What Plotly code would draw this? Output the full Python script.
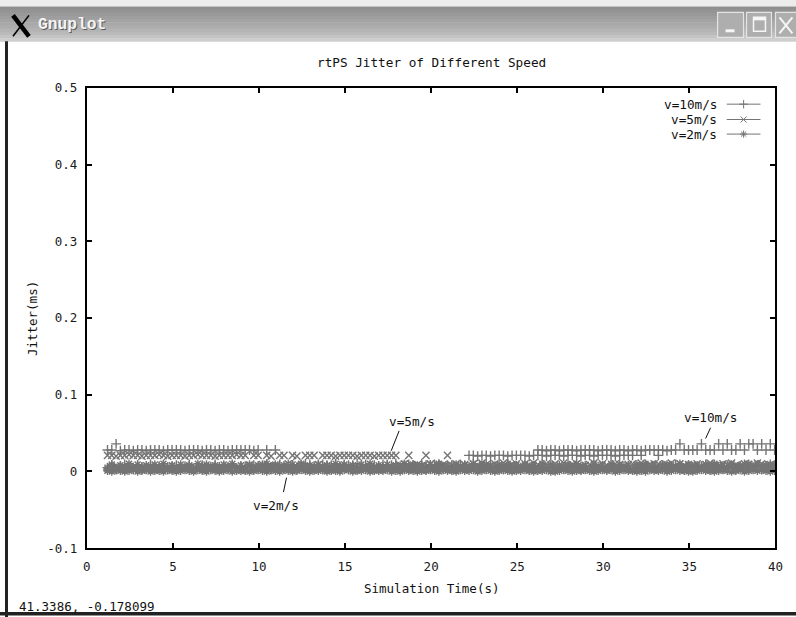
import numpy as np
import plotly.graph_objects as go

# Window layout is described in window pixels (796 x 617).  The page is shown
# slightly inset and scaled, so window pixels are mapped onto the figure with
# the measured inset (OX, OY) and scale (SX, SY).
WIN_W, WIN_H = 796, 617
SX, SY = 0.987, 0.980
OX, OY = 4.0, 5.6
FIG_W, FIG_H = 802, 624
FS = 1 / 0.984          # font / marker size correction for the same scale

# ---------------------------------------------------------------- data
# rtPS grant times (s): one sample every 250 ms
t = np.round(1.2 + 0.25 * np.arange(157), 2)

# jitter (ms) of the v=10m/s flows
jit10_a = [
    0.028, 0.028, 0.036, 0.027, 0.028, 0.028, 0.027, 0.028,
    0.028, 0.027, 0.028, 0.028, 0.028, 0.027, 0.028, 0.028,
    0.028, 0.028, 0.027, 0.028, 0.028, 0.028, 0.027, 0.028,
    0.028, 0.027, 0.028, 0.028, 0.027, 0.028, 0.028, 0.028,
    0.028, 0.028, 0.027, 0.028, 0.008, 0.028, 0.006, 0.028,
    0.008, 0.006, 0.009, 0.007, 0.005, 0.008, 0.010, 0.006,
    0.007, 0.009, 0.005, 0.008, 0.006, 0.010, 0.007, 0.009,
    0.006, 0.008, 0.010, 0.007, 0.009, 0.005, 0.008, 0.007,
    0.009, 0.006, 0.008, 0.010, 0.007, 0.005, 0.009, 0.008,
    0.007, 0.010, 0.006, 0.008, 0.009, 0.007, 0.005, 0.008,
    0.008, 0.006, 0.009, 0.007, 0.021, 0.021, 0.020, 0.021,
    0.021, 0.020, 0.021, 0.021, 0.021, 0.020, 0.021, 0.021,
    0.021, 0.021, 0.020, 0.021, 0.028, 0.028, 0.027, 0.028,
    0.028, 0.027, 0.028, 0.028, 0.028, 0.027, 0.028, 0.028,
    0.028, 0.028, 0.027, 0.028, 0.028, 0.028, 0.027, 0.028,
    0.028, 0.027, 0.028, 0.028, 0.027, 0.028, 0.028, 0.028,
    0.028, 0.028, 0.027, 0.028, 0.028, 0.036, 0.028, 0.028,
    0.028, 0.028, 0.036, 0.028, 0.028, 0.028, 0.036, 0.028,
    0.036, 0.028, 0.028, 0.036, 0.028, 0.036, 0.036, 0.028,
    0.036, 0.028, 0.036, 0.028, 0.028,
]
jit10_b = [
    0.005, 0.008, 0.004, 0.007, 0.009, 0.006, 0.003, 0.008,
    0.006, 0.004, 0.009, 0.005, 0.007, 0.008, 0.006, 0.004,
    0.008, 0.005, 0.007, 0.009, 0.004, 0.006, 0.008, 0.005,
    0.004, 0.009, 0.006, 0.007, 0.005, 0.008, 0.004, 0.006,
    0.007, 0.005, 0.008, 0.004, 0.006, 0.009, 0.005, 0.007,
    0.009, 0.004, 0.006, 0.008, 0.005, 0.007, 0.004, 0.009,
    0.005, 0.007, 0.009, 0.004, 0.008, 0.006, 0.005, 0.007,
    0.008, 0.006, 0.004, 0.009, 0.005, 0.007, 0.006, 0.004,
    0.006, 0.009, 0.005, 0.007, 0.004, 0.008, 0.006, 0.005,
    0.004, 0.006, 0.008, 0.005, 0.007, 0.009, 0.004, 0.006,
    0.007, 0.005, 0.004, 0.008, 0.006, 0.009, 0.005, 0.007,
    0.009, 0.006, 0.007, 0.004, 0.005, 0.008, 0.006, 0.004,
    0.005, 0.008, 0.004, 0.007, 0.021, 0.021, 0.020, 0.021,
    0.021, 0.021, 0.020, 0.021, 0.021, 0.021, 0.020, 0.021,
    0.021, 0.020, 0.021, 0.021, 0.021, 0.021, 0.020, 0.021,
    0.021, 0.021, 0.021, 0.006, 0.021, 0.008, 0.005, 0.007,
    0.021, 0.006, 0.008, 0.005, 0.009, 0.007, 0.004, 0.008,
    0.006, 0.004, 0.007, 0.009, 0.005, 0.008, 0.006, 0.004,
    0.008, 0.006, 0.005, 0.007, 0.009, 0.004, 0.006, 0.008,
    0.005, 0.007, 0.009, 0.006, 0.004,
]

# jitter (ms) of the v=5m/s flow
jit5 = [
    0.021, 0.021, 0.020, 0.021, 0.021, 0.022, 0.021, 0.021,
    0.020, 0.021, 0.021, 0.021, 0.022, 0.021, 0.020, 0.021,
    0.021, 0.021, 0.020, 0.021, 0.021, 0.022, 0.021, 0.021,
    0.021, 0.020, 0.021, 0.021, 0.021, 0.021, 0.022, 0.021,
    0.021, 0.008, 0.021, 0.021, 0.009, 0.021, 0.020, 0.007,
    0.021, 0.021, 0.010, 0.021, 0.020, 0.008, 0.021, 0.021,
    0.021, 0.009, 0.021, 0.021, 0.021, 0.020, 0.021, 0.021,
    0.021, 0.021, 0.020, 0.021, 0.021, 0.021, 0.020, 0.021,
    0.021, 0.021, 0.021, 0.021, 0.008, 0.010, 0.021, 0.007,
    0.009, 0.007, 0.021, 0.010, 0.006, 0.008, 0.009, 0.021,
    0.008, 0.010, 0.006, 0.009, 0.007, 0.010, 0.008, 0.011,
    0.009, 0.007, 0.010, 0.008, 0.011, 0.006, 0.009, 0.010,
    0.007, 0.010, 0.008, 0.011, 0.009, 0.006, 0.010, 0.008,
    0.010, 0.008, 0.011, 0.007, 0.009, 0.010, 0.006, 0.008,
    0.009, 0.011, 0.007, 0.010, 0.008, 0.006, 0.010, 0.009,
    0.007, 0.009, 0.010, 0.008, 0.011, 0.007, 0.009, 0.010,
    0.010, 0.007, 0.009, 0.011, 0.006, 0.010, 0.008, 0.009,
    0.008, 0.010, 0.006, 0.009, 0.011, 0.008, 0.007, 0.010,
    0.009, 0.011, 0.008, 0.006, 0.010, 0.009, 0.007, 0.011,
    0.010, 0.008, 0.009, 0.007, 0.010,
]

# jitter (ms) of the v=2m/s flows
jit2_a = [
    0.001, 0.000, 0.002, 0.001, 0.000, 0.001, 0.002, 0.000,
    0.001, 0.002, 0.000, 0.001, 0.001, 0.000, 0.002, 0.001,
    0.000, 0.001, 0.002, 0.001, 0.000, 0.002, 0.001, 0.000,
    0.002, 0.001, 0.000, 0.001, 0.002, 0.000, 0.001, 0.001,
    0.001, 0.000, 0.001, 0.002, 0.001, 0.000, 0.002, 0.001,
    0.000, 0.002, 0.001, 0.000, 0.001, 0.002, 0.001, 0.000,
    0.001, 0.001, 0.002, 0.000, 0.001, 0.001, 0.000, 0.002,
    0.002, 0.000, 0.001, 0.001, 0.002, 0.000, 0.001, 0.001,
    0.001, 0.002, 0.000, 0.001, 0.000, 0.002, 0.001, 0.001,
    0.000, 0.001, 0.001, 0.002, 0.001, 0.000, 0.002, 0.001,
    0.001, 0.000, 0.002, 0.001, 0.001, 0.002, 0.000, 0.001,
    0.002, 0.001, 0.000, 0.001, 0.002, 0.001, 0.000, 0.001,
    0.001, 0.002, 0.001, 0.000, 0.001, 0.001, 0.002, 0.000,
    0.000, 0.001, 0.002, 0.001, 0.000, 0.001, 0.001, 0.002,
    0.001, 0.000, 0.001, 0.002, 0.001, 0.002, 0.000, 0.001,
    0.002, 0.001, 0.001, 0.000, 0.001, 0.000, 0.002, 0.001,
    0.001, 0.002, 0.000, 0.001, 0.002, 0.001, 0.001, 0.000,
    0.000, 0.001, 0.002, 0.001, 0.001, 0.000, 0.001, 0.002,
    0.001, 0.000, 0.001, 0.002, 0.000, 0.001, 0.002, 0.001,
    0.002, 0.001, 0.000, 0.001, 0.001,
]
jit2_b = [
    0.005, 0.007, 0.004, 0.006, 0.005, 0.007, 0.006, 0.004,
    0.006, 0.004, 0.007, 0.005, 0.006, 0.005, 0.004, 0.007,
    0.004, 0.006, 0.005, 0.007, 0.004, 0.005, 0.007, 0.006,
    0.007, 0.005, 0.006, 0.004, 0.007, 0.006, 0.005, 0.004,
    0.005, 0.007, 0.004, 0.006, 0.005, 0.004, 0.006, 0.007,
    0.006, 0.004, 0.007, 0.005, 0.006, 0.007, 0.004, 0.005,
    0.004, 0.006, 0.005, 0.007, 0.004, 0.006, 0.007, 0.005,
    0.007, 0.005, 0.004, 0.006, 0.005, 0.007, 0.006, 0.004,
    0.005, 0.004, 0.006, 0.007, 0.005, 0.004, 0.006, 0.007,
    0.006, 0.007, 0.005, 0.004, 0.006, 0.005, 0.007, 0.004,
    0.004, 0.006, 0.007, 0.005, 0.004, 0.006, 0.005, 0.007,
    0.007, 0.004, 0.005, 0.006, 0.007, 0.004, 0.006, 0.005,
    0.005, 0.007, 0.006, 0.004, 0.005, 0.007, 0.004, 0.006,
    0.006, 0.004, 0.005, 0.007, 0.006, 0.005, 0.007, 0.004,
    0.004, 0.006, 0.007, 0.005, 0.004, 0.007, 0.005, 0.006,
    0.007, 0.005, 0.004, 0.006, 0.007, 0.004, 0.006, 0.005,
    0.005, 0.006, 0.007, 0.004, 0.005, 0.006, 0.004, 0.007,
    0.006, 0.004, 0.005, 0.007, 0.006, 0.005, 0.007, 0.004,
    0.004, 0.007, 0.006, 0.005, 0.004, 0.006, 0.005, 0.007,
    0.006, 0.005, 0.007, 0.004, 0.006,
]
jit2_c = [
    0.003, 0.009, 0.002, 0.008, 0.003, 0.010, 0.004, 0.009,
    0.002, 0.008, 0.003, 0.009, 0.004, 0.010, 0.002, 0.008,
    0.003, 0.009, 0.004, 0.008, 0.002, 0.010, 0.003, 0.009,
    0.004, 0.008, 0.002, 0.009, 0.003, 0.010, 0.004, 0.008,
    0.002, 0.009, 0.003, 0.008, 0.004, 0.010, 0.002, 0.009,
    0.003, 0.008, 0.004, 0.009, 0.002, 0.010, 0.003, 0.008,
    0.004, 0.009, 0.002, 0.008, 0.003, 0.010, 0.004, 0.009,
    0.002, 0.008, 0.003, 0.009, 0.004, 0.010, 0.002, 0.008,
    0.003, 0.009, 0.004, 0.008, 0.002, 0.010, 0.003, 0.009,
    0.004, 0.008, 0.002, 0.009, 0.003, 0.010, 0.004, 0.008,
    0.002, 0.009, 0.003, 0.008, 0.004, 0.010, 0.002, 0.009,
    0.003, 0.008, 0.004, 0.009, 0.002, 0.010, 0.003, 0.008,
    0.004, 0.009, 0.002, 0.008, 0.003, 0.010, 0.004, 0.009,
    0.002, 0.008, 0.003, 0.009, 0.004, 0.010, 0.002, 0.008,
    0.003, 0.009, 0.004, 0.008, 0.002, 0.010, 0.003, 0.009,
    0.004, 0.008, 0.002, 0.009, 0.003, 0.010, 0.004, 0.008,
    0.002, 0.009, 0.003, 0.008, 0.004, 0.010, 0.002, 0.009,
    0.003, 0.008, 0.004, 0.009, 0.002, 0.010, 0.003, 0.008,
    0.004, 0.009, 0.002, 0.008, 0.003, 0.010, 0.004, 0.009,
    0.002, 0.008, 0.003, 0.009, 0.004,
]

series = [
    ("v=10m/s", "cross-thin", [jit10_a, jit10_b]),
    ("v=5m/s", "x-thin", [jit5]),
    ("v=2m/s", "asterisk", [jit2_a, jit2_b, jit2_c]),
]

x_ticks = [0, 5, 10, 15, 20, 25, 30, 35, 40]
y_ticks = [-0.1, 0, 0.1, 0.2, 0.3, 0.4, 0.5]
y_tick_text = ["-0.1", "0", "0.1", "0.2", "0.3", "0.4", "0.5"]

# ---------------------------------------------------------------- style
MONO = "DejaVu Sans Mono"
PT_COLOR = "#747474"
FRAME = "#222222"
PT_SIZE = 7 * FS


def px(x):
    """window pixel column -> paper x"""
    return (x - OX) / SX / FIG_W


def py(y):
    """window pixel row -> paper y"""
    return 1 - (y - OY) / SY / FIG_H


def font(size, family=MONO, color="#111"):
    return dict(family=family, size=size * FS, color=color)


fig = go.Figure()

for name, symbol, flows in series:
    xs, ys = [], []
    for flow in flows:
        xs.extend(t.tolist())
        ys.extend(flow)
    fig.add_trace(go.Scatter(
        x=xs, y=ys, mode="markers", name=name, showlegend=False,
        marker=dict(symbol=symbol, size=PT_SIZE, color=PT_COLOR,
                    line=dict(color=PT_COLOR, width=1.4)),
        cliponaxis=True,
    ))

# key (gnuplot style: text, then a sample line with the point type)
KEY_TEXT_X = 36.72
KEY_X = [37.17, 38.15, 39.13]
KEY_Y = [0.479, 0.459, 0.440]
for (name, symbol, _), ky in zip(series, KEY_Y):
    fig.add_trace(go.Scatter(
        x=KEY_X, y=[ky] * 3, mode="lines", showlegend=False,
        line=dict(color=PT_COLOR, width=1), hoverinfo="skip"))
    fig.add_trace(go.Scatter(
        x=[KEY_X[1]], y=[ky], mode="markers", showlegend=False,
        marker=dict(symbol=symbol, size=6 * FS, color=PT_COLOR,
                    line=dict(color=PT_COLOR, width=1)),
        hoverinfo="skip"))
    fig.add_annotation(x=KEY_TEXT_X, y=ky, xref="x", yref="y", text=name,
                       showarrow=False, xanchor="right", yanchor="middle",
                       font=font(12.5))

# labels pointing at each speed's trace
labels = [
    ("v=5m/s", (18.9, 0.065), (18.14, 0.053), (17.68, 0.027)),
    ("v=2m/s", (11.0, -0.044), (11.6, -0.008), (11.42, -0.027)),
    ("v=10m/s", (36.23, 0.070), (36.23, 0.057), (35.94, 0.043)),
]
for text, (tx, ty), (x0, y0), (x1, y1) in labels:
    fig.add_annotation(x=tx, y=ty, xref="x", yref="y", text=text,
                       showarrow=False, xanchor="center", yanchor="middle",
                       font=font(12.5))
    fig.add_shape(type="line", xref="x", yref="y", x0=x0, y0=y0, x1=x1, y1=y1,
                  line=dict(color="#111", width=1))

# ---------------------------------------------------------------- window chrome
shapes = []


def rect(x0, y0, x1, y1, fill, line_color=None, lw=0):
    shapes.append(dict(type="rect", xref="paper", yref="paper",
                       x0=px(x0), x1=px(x1), y0=py(y1), y1=py(y0),
                       fillcolor=fill,
                       line=dict(color=line_color or fill, width=lw),
                       layer="above"))


def seg(x0, y0, x1, y1, color, width):
    shapes.append(dict(type="line", xref="paper", yref="paper",
                       x0=px(x0), y0=py(y0), x1=px(x1), y1=py(y1),
                       line=dict(color=color, width=width), layer="above"))


# title bar with a vertical gradient
rect(-10, -10, WIN_W + 10, 4, "#ececec")
bar = ["#8f8f8f", "#949494", "#999999", "#9e9e9e", "#a3a3a3", "#a8a8a8",
       "#adadad", "#b3b3b3", "#bababa", "#c4c4c4", "#cecece"]
step = 35 / len(bar)
for i, c in enumerate(bar):
    rect(-10, 4 + i * step, WIN_W + 10, 4 + (i + 1) * step + 0.6, c)

# window frame
rect(5, 39, 8, WIN_H + 10, FRAME)
rect(-10, 612, WIN_W + 10, 615.5, FRAME)

# X logo
seg(13, 13, 29, 34, "#000", 4.5)
seg(29, 13, 13, 34, "#000", 1.6)

# caption buttons
for x0, x1 in [(719, 745), (748, 773), (777, 805)]:
    rect(x0, 10, x1, 35, "#aeaeae", "#e4e4e4", 1.2)
rect(727, 27, 736, 30, "#f6f6f6")
rect(755, 15, 767, 29, "rgba(0,0,0,0)", "#f6f6f6", 1.5)
rect(755, 15, 767, 18, "#f6f6f6")
seg(781, 15, 794, 31, "#f6f6f6", 2)
seg(794, 15, 781, 31, "#f6f6f6", 2)

annotations = [
    dict(x=px(37), y=py(23), text="<b>Gnuplot</b>",
         font=font(16, "Liberation Mono", "#5a5a5a")),
    dict(x=px(36), y=py(22), text="<b>Gnuplot</b>",
         font=font(16, "Liberation Mono", "#f4f4f4")),
    dict(x=px(17), y=py(607), text="41.3386, -0.178099", font=font(12.3)),
]
for a in annotations:
    fig.add_annotation(xref="paper", yref="paper", showarrow=False,
                       xanchor="left", yanchor="middle", **a)

# plot title and axis titles
fig.add_annotation(xref="paper", yref="paper", x=px(432), y=py(60),
                   text="rtPS Jitter of Different Speed", showarrow=False,
                   xanchor="center", yanchor="middle", font=font(12.5))
fig.add_annotation(xref="paper", yref="paper", x=px(432), y=py(589),
                   text="Simulation Time(s)", showarrow=False,
                   xanchor="center", yanchor="middle", font=font(12.3))
fig.add_annotation(xref="paper", yref="paper", x=px(32), y=py(317),
                   text="Jitter(ms)", showarrow=False, textangle=-90,
                   xanchor="center", yanchor="middle", font=font(12.3))

axis_common = dict(
    showline=True, linecolor="#000", linewidth=2, mirror="ticks",
    ticks="inside", ticklen=5, tickwidth=2, tickcolor="#000",
    showgrid=False, zeroline=False, fixedrange=True,
    tickfont=font(12.3, color="#1a1a1a"),
)

fig.update_layout(
    width=FIG_W, height=FIG_H, autosize=False,
    margin=dict(l=0, r=0, t=0, b=0),
    paper_bgcolor="#ffffff", plot_bgcolor="#ffffff",
    shapes=fig.layout.shapes + tuple(shapes),
    xaxis=dict(domain=[px(87), px(777)], range=[0, 40],
               tickvals=x_ticks, ticklabelstandoff=6, **axis_common),
    yaxis=dict(domain=[py(548), py(86)], range=[-0.1, 0.5],
               tickvals=y_ticks, ticktext=y_tick_text,
               ticklabelstandoff=5, **axis_common),
    showlegend=False,
)

fig.write_html("out.html", config={"displayModeBar": False})
